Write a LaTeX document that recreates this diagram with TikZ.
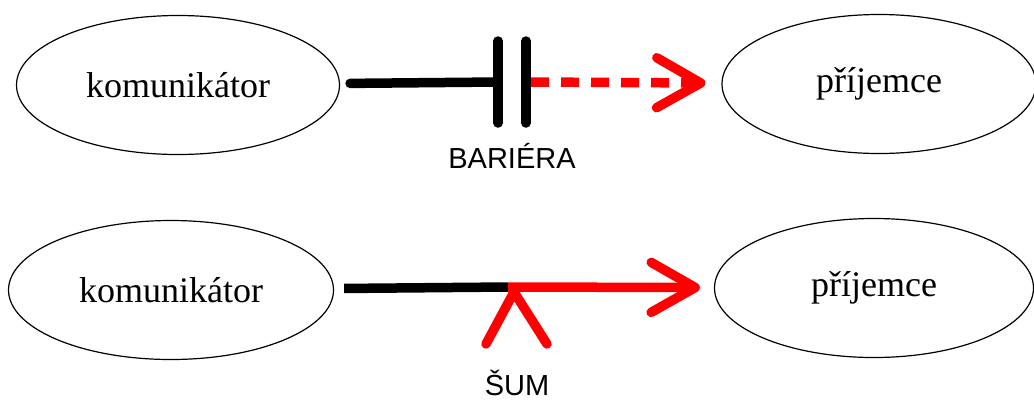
\documentclass[tikz,border=0pt]{standalone}
\usepackage{fontspec}
\setmainfont{Liberation Serif}
\newfontfamily\labelfont{Liberation Sans}
\usetikzlibrary{shapes.geometric,arrows.meta}

\begin{document}
\begin{tikzpicture}[x=1pt, y=-1pt,
    party/.style={ellipse, draw, line width=1.2pt, inner sep=0pt, minimum height=139pt, font=\fontsize{36}{40}\selectfont},
    wire/.style={line width=9.5pt, line cap=round},
    tip/.style={-{Straight Barb[length=44pt, width=50pt, round]}},
    lbl/.style={font=\labelfont\fontsize{29}{32}\selectfont}]
        \useasboundingbox (0,0) rectangle (1034,400);

        \node[party, minimum width=323pt] at (178,85) (KOM1) {komunikátor};
        \node[party, minimum width=314pt] at (879,84) (PRIJ1) {příjemce};
        \node[party, minimum width=325pt] at (171,290) (KOM2) {komunikátor};
        \node[party, minimum width=319pt] at (874,288) (PRIJ2) {příjemce};

        % bariera
        \coordinate (BAR1) at (498,82);
        \coordinate (BAR2) at (526,82);
        \draw [wire, shorten <=10pt] (KOM1) to (BAR1);
        \draw [wire] ([yshift=-41pt]BAR1) to ([yshift=41pt]BAR1);
        \draw [wire] ([yshift=-41pt]BAR2) to ([yshift=41pt]BAR2);
        \draw [wire, line cap=butt, red, dash pattern=on 18pt off 12pt, tip, shorten >=16pt] ([xshift=5pt]BAR2) to (PRIJ1);
        \node[lbl] at (512,156) (BARLBL) {BARIÉRA};

        % sum
        \coordinate (SUM) at (508,287);
        \coordinate (SUMTOP) at (514,292);
        \coordinate (SUML) at (486,344);
        \coordinate (SUMR) at (547,344);
        \draw [wire, shorten <=10pt, line cap=butt] (KOM2) to (SUM);
        \draw [wire, red, line cap=butt, tip, shorten >=14pt] (SUM) to (PRIJ2);
        \draw [wire, red] (SUML) to (SUMTOP) to (SUMR);
        \node[lbl] at (517,383) (SUMLBL) {ŠUM};

    \end{tikzpicture}
\end{document}
